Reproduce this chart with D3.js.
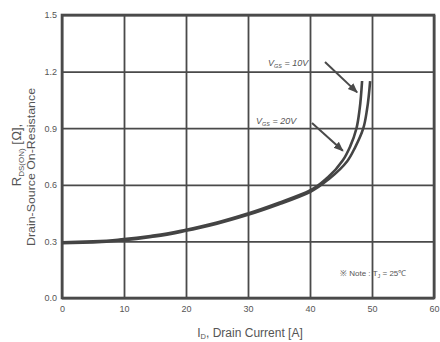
<!DOCTYPE html>
<html>
<head>
<meta charset="utf-8">
<script src="https://cdn.jsdelivr.net/npm/d3@7"></script>
<style>
  html, body { margin: 0; padding: 0; background: #fff; }
  svg { display: block; }
  text { font-family: "Liberation Sans", Arial, sans-serif; fill: #555; }
</style>
</head>
<body>
<svg id="chart" width="440" height="342"></svg>
<script>
// Drain current (A) and on-resistance (ohm) for two gate voltages
const idVgs10 = [0, 5, 10, 15, 20, 25, 30, 35, 40, 42.9, 45.3, 46.5, 47.5, 48.0, 48.4];
const rdsVgs10 = [0.295, 0.300, 0.312, 0.332, 0.362, 0.400, 0.448, 0.505, 0.570, 0.640, 0.730, 0.805, 0.900, 1.000, 1.150];
const idVgs20 = [0, 5, 10, 15, 20, 25, 30, 35, 40, 43.2, 46.0, 47.3, 48.6, 49.2, 49.7];
const rdsVgs20 = [0.290, 0.295, 0.306, 0.326, 0.356, 0.394, 0.441, 0.497, 0.562, 0.635, 0.725, 0.800, 0.900, 1.000, 1.150];

const xTicks = [0, 10, 20, 30, 40, 50, 60];
const yTicks = [0.0, 0.3, 0.6, 0.9, 1.2, 1.5];

const svg = d3.select("#chart");
const mLeft = 62, mRight = 434, mTop = 15, mBottom = 298;

const x = d3.scaleLinear().domain([0, 60]).range([mLeft, mRight]);
const y = d3.scaleLinear().domain([0, 1.5]).range([mBottom, mTop]);

const ink = "#4a4a4a";

// grid lines
const gx = svg.append("g").attr("transform", `translate(0,${mBottom})`)
  .call(d3.axisBottom(x).tickValues(xTicks).tickSize(-(mBottom - mTop)).tickFormat(d => d).tickPadding(8));
const gy = svg.append("g").attr("transform", `translate(${mLeft},0)`)
  .call(d3.axisLeft(y).tickValues(yTicks).tickSize(-(mRight - mLeft)).tickFormat(d3.format(".1f")).tickPadding(5));

[gx, gy].forEach(g => {
  g.select(".domain").remove();
  g.selectAll(".tick line").attr("stroke", ink).attr("stroke-width", 1.8);
  g.selectAll(".tick text").attr("fill", "#666").style("font-size", "9px")
    .style("font-family", "'Liberation Sans Narrow', 'Liberation Sans', sans-serif");
});

// frame
svg.append("rect")
  .attr("x", mLeft).attr("y", mTop)
  .attr("width", mRight - mLeft).attr("height", mBottom - mTop)
  .attr("fill", "none").attr("stroke", ink).attr("stroke-width", 2.6);

// curves
const line = d3.line().x(d => x(d[0])).y(d => y(d[1])).curve(d3.curveMonotoneY);
const s10 = idVgs10.map((v, i) => [v, rdsVgs10[i]]);
const s20 = idVgs20.map((v, i) => [v, rdsVgs20[i]]);
[s10, s20].forEach(s => {
  svg.append("path").datum(s).attr("d", line)
    .attr("fill", "none").attr("stroke", "#444").attr("stroke-width", 2.6);
});

// arrow markers
svg.append("defs").append("marker")
  .attr("id", "arr").attr("viewBox", "0 0 10 10").attr("refX", 9).attr("refY", 5)
  .attr("markerWidth", 5).attr("markerHeight", 5).attr("orient", "auto")
  .append("path").attr("d", "M0,1 L10,5 L0,9 Z").attr("fill", ink);

function callout(label, tx, ty, idAt, rAt, x0, y0) {
  const t = svg.append("text").attr("x", tx).attr("y", ty)
    .style("font-size", "9px").style("font-style", "italic").attr("fill", "#666");
  t.append("tspan").text("V");
  t.append("tspan").text("GS").attr("dy", 2).style("font-size", "5.5px");
  t.append("tspan").text(" = " + label).attr("dy", -2);
  svg.append("line")
    .attr("x1", x0).attr("y1", y0)
    .attr("x2", x(idAt)).attr("y2", y(rAt))
    .attr("stroke", ink).attr("stroke-width", 2).attr("marker-end", "url(#arr)");
}
callout("10V", 268, 66, 47.6, 1.09, 325, 62);
callout("20V", 256, 124, 45.3, 0.78, 312, 123);

// note
const note = svg.append("text").attr("x", 340).attr("y", 276).style("font-size", "8px").attr("fill", "#666");
note.append("tspan").text("\u203B Note : T");
note.append("tspan").text("J").attr("dy", 2).style("font-size", "5.5px");
note.append("tspan").text(" = 25\u2103").attr("dy", -2);

// x axis title
const xt = svg.append("text").attr("x", 250).attr("y", 337).attr("text-anchor", "middle")
  .style("font-size", "12px").attr("fill", "#555");
xt.append("tspan").text("I");
xt.append("tspan").text("D").attr("dy", 2).style("font-size", "7.5px");
xt.append("tspan").text(", Drain Current [A]").attr("dy", -2);

// y axis title (two rotated lines)
const yt = svg.append("text").attr("transform", "translate(21,155) rotate(-90)")
  .attr("text-anchor", "middle").style("font-size", "13px").attr("fill", "#444");
yt.append("tspan").text("R");
yt.append("tspan").text("DS(ON)").attr("dy", 3).style("font-size", "8px");
yt.append("tspan").text(" [\u2126],").attr("dy", -3);

svg.append("text").attr("transform", "translate(35,167) rotate(-90)")
  .attr("text-anchor", "middle").style("font-size", "10.5px").attr("fill", "#444")
  .attr("textLength", 158).attr("lengthAdjust", "spacingAndGlyphs")
  .text("Drain-Source On-Resistance");
</script>
</body>
</html>
